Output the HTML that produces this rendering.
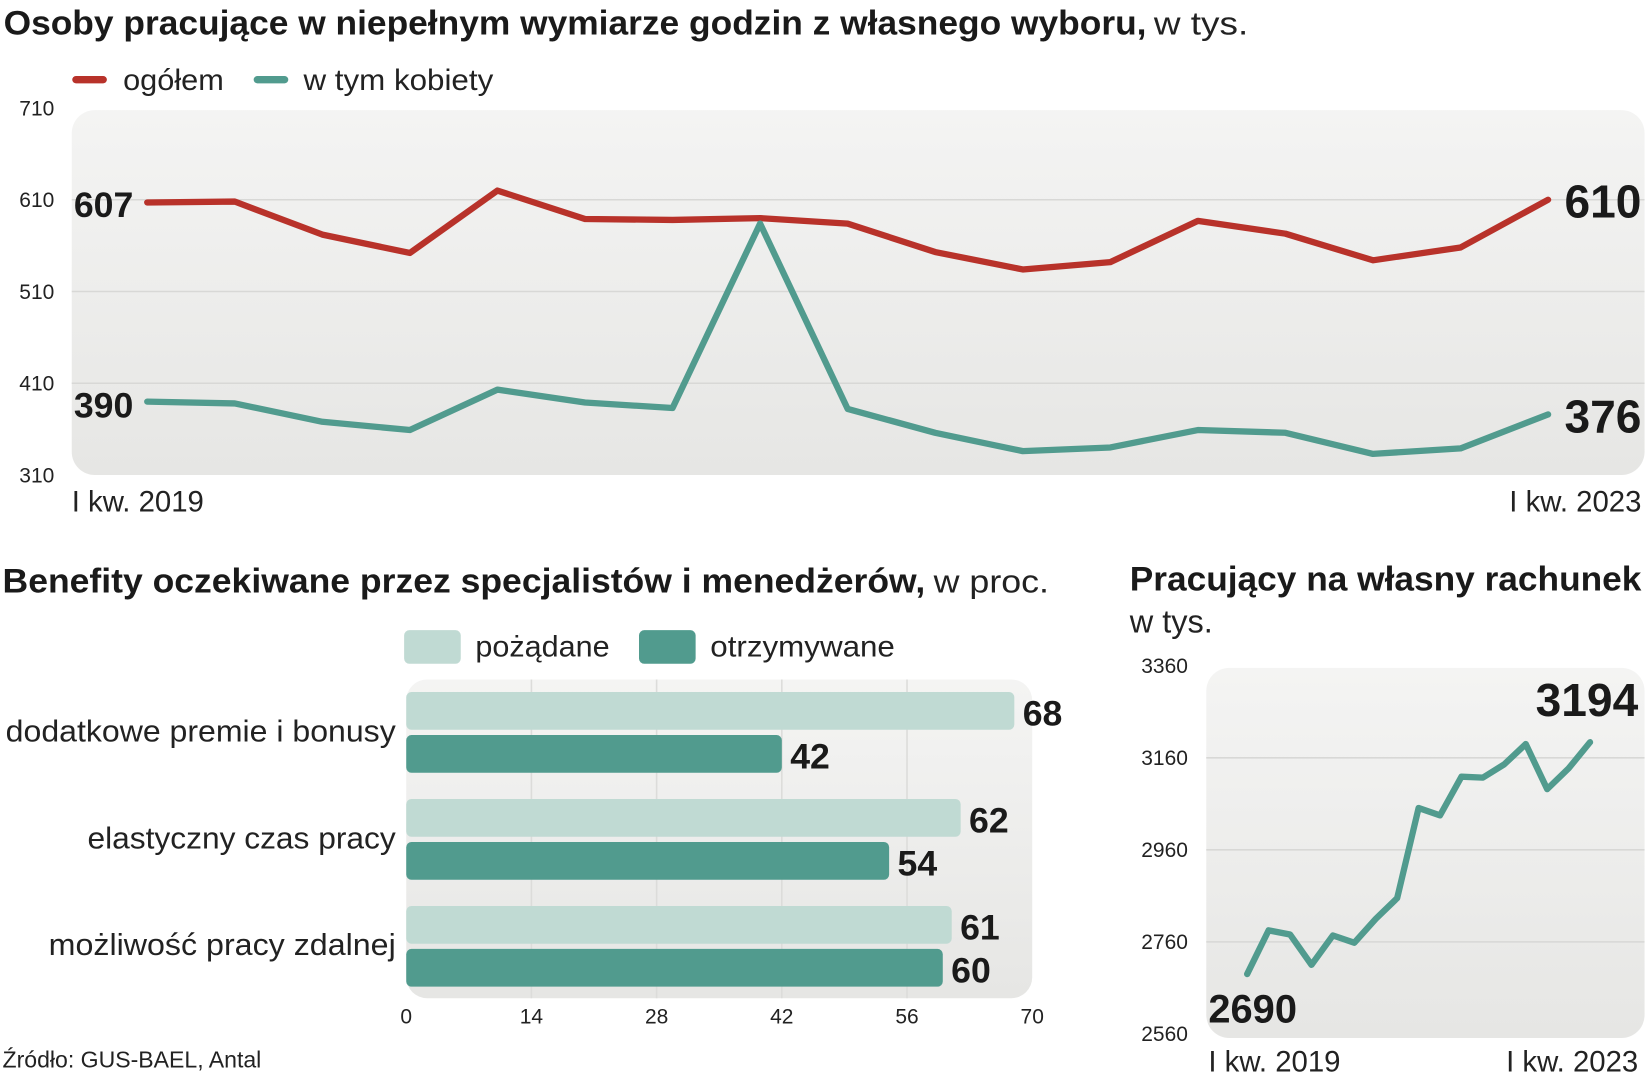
<!DOCTYPE html>
<html><head><meta charset="utf-8"><style>
html,body{margin:0;padding:0;background:#fff;}
svg{display:block;font-family:"Liberation Sans Narrow","Liberation Sans",sans-serif;}
.lt{font-weight:300;fill:#222;}
.b{font-weight:700;fill:#1a1a1a;}
</style></head><body>
<svg id="svg" width="1645" height="1080" viewBox="0 0 1568 1030" xmlns="http://www.w3.org/2000/svg">
<defs>
<linearGradient id="bg" x1="0" y1="0" x2="0" y2="1"><stop offset="0" stop-color="#f4f4f3"/><stop offset="1" stop-color="#e6e6e4"/></linearGradient>
</defs>
<text x="3" y="33" font-size="33" class="b" textLength="1090" lengthAdjust="spacingAndGlyphs">Osoby pracujące w niepełnym wymiarze godzin z własnego wyboru,</text>
<text x="1100" y="33" font-size="31" class="lt" textLength="90" lengthAdjust="spacingAndGlyphs">w tys.</text>
<g>
<line x1="72" y1="76" x2="98" y2="76" stroke="#b8322a" stroke-width="7" stroke-linecap="round"/>
<text x="117" y="86" font-size="28" class="lt" textLength="96" lengthAdjust="spacingAndGlyphs">ogółem</text>
<line x1="245" y1="76" x2="271" y2="76" stroke="#519b8e" stroke-width="7" stroke-linecap="round"/>
<text x="289" y="86" font-size="28" class="lt" textLength="181" lengthAdjust="spacingAndGlyphs">w tym kobiety</text>
</g>
<rect x="68" y="105" width="1500" height="348" rx="22" fill="url(#bg)"/>
<g id="topchart"></g>
<text x="68" y="488" font-size="28" class="lt">I kw. 2019</text>
<text x="1565" y="488" font-size="28" class="lt" text-anchor="end">I kw. 2023</text>

<text x="2" y="565" font-size="33" class="b" textLength="880" lengthAdjust="spacingAndGlyphs">Benefity oczekiwane przez specjalistów i menedżerów,</text>
<text x="890" y="565" font-size="31" class="lt" textLength="110" lengthAdjust="spacingAndGlyphs">w proc.</text>
<g>
<rect x="385" y="601" width="54" height="32" rx="5" fill="#c0dad3"/>
<text x="453" y="626" font-size="28" class="lt" textLength="128" lengthAdjust="spacingAndGlyphs">pożądane</text>
<rect x="609" y="601" width="54" height="32" rx="5" fill="#519b8e"/>
<text x="677" y="626" font-size="28" class="lt" textLength="176" lengthAdjust="spacingAndGlyphs">otrzymywane</text>
</g>
<rect x="387" y="648" width="597" height="304" rx="20" fill="url(#bg)"/>
<g id="bars"></g>
<text x="2" y="1018" font-size="22" class="lt">Źródło: GUS-BAEL, Antal</text>

<text x="1077" y="563" font-size="33" class="b" textLength="488" lengthAdjust="spacingAndGlyphs">Pracujący na własny rachunek</text>
<text x="1077" y="603" font-size="31" class="lt">w tys.</text>
<rect x="1150" y="637" width="418" height="353" rx="22" fill="url(#bg)"/>
<g id="rightchart"></g>
<text x="1152" y="1022" font-size="28" class="lt">I kw. 2019</text>
<text x="1562" y="1022" font-size="28" class="lt" text-anchor="end">I kw. 2023</text>
</svg>
<script>
const NS="http://www.w3.org/2000/svg";
const totalVals=[607,608,572,552,620,589,588,590,584,553,534,542,587,573,544,558,610];
const womenVals=[390,388,368,359,403,389,383,584,382,356,336,340,359,356,333,339,376];
const topTicks=[310,410,510,610,710];
const benefitCats=["dodatkowe premie i bonusy","elastyczny czas pracy","możliwość pracy zdalnej"];
const desiredVals=[68,62,61];
const receivedVals=[42,54,60];
const barTicks=[0,14,28,42,56,70];
const selfVals=[2690,2785,2776,2710,2774,2758,2810,2855,3051,3035,3119,3117,3146,3190,3092,3137,3194];
const rightTicks=[2560,2760,2960,3160,3360];
const catWidths=[372,294,331];

function mk(tag,attrs,parent,txt){const e=document.createElementNS(NS,tag);for(const k in attrs)e.setAttribute(k,attrs[k]);if(txt!==undefined)e.textContent=txt;parent.appendChild(e);return e;}

const topG=document.getElementById('topchart');
const tx=i=>140+i*(1476-140)/(totalVals.length-1);
const ty=v=>453-(v-310)*(453-103)/400;
topTicks.forEach(t=>{
  if(t>310&&t<710){const l=mk('line',{x1:68,x2:1568,y1:ty(t),y2:ty(t),stroke:'#d8d8d6','stroke-width':1.5},topG);
  
  }
  const lb=mk('text',{x:18,y:ty(t)+7,'font-size':20,class:'lt'},topG,t);
  
  
});
function line(vals,xf,yf,color,parent,name,w){
  const p=mk('polyline',{points:vals.map((v,i)=>xf(i)+','+yf(v)).join(' '),fill:'none',stroke:color,'stroke-width':w,'stroke-linejoin':'round','stroke-linecap':'round'},parent);
  
  
}
line(totalVals,tx,ty,'#b8322a',topG,'total-line',6);
line(womenVals,tx,ty,'#519b8e',topG,'women-line',6);
function lab(x,y,s,txt,anchor,name,parent){const e=mk('text',{x:x,y:y,'font-size':s,class:'b','text-anchor':anchor},parent,txt);

}
const n=totalVals.length-1;
lab(70,ty(totalVals[0])+14,34,totalVals[0],'start','total-start-value',topG);
lab(70,ty(womenVals[0])+15,34,womenVals[0],'start','women-start-value',topG);
lab(1565,ty(totalVals[n])+17,44,totalVals[n],'end','total-end-value',topG);
lab(1565,ty(womenVals[n])+17,44,womenVals[n],'end','women-end-value',topG);

const bars=document.getElementById('bars');
const bx=v=>387+v*(984-387)/70;
barTicks.forEach(t=>{
  if(t>0&&t<70){const l=mk('line',{x1:bx(t),x2:bx(t),y1:648,y2:952,stroke:'#dcdcda','stroke-width':1.5},bars);
  
  }
  const lb=mk('text',{x:bx(t),y:976,'font-size':20,class:'lt','text-anchor':'middle'},bars,t);
  
  
});
benefitCats.forEach((c,i)=>{
  const y0=660+i*102;
  const r1=mk('rect',{x:387,y:y0,width:bx(desiredVals[i])-387,height:36,rx:5,fill:'#c0dad3'},bars);
  
  
  const r2=mk('rect',{x:387,y:y0+41,width:bx(receivedVals[i])-387,height:36,rx:5,fill:'#519b8e'},bars);
  
  
  lab(bx(desiredVals[i])+8,y0+32,34,desiredVals[i],'start','desired-value',bars);
  lab(bx(receivedVals[i])+8,y0+73,34,receivedVals[i],'start','received-value',bars);
  const cl=mk('text',{x:377-catWidths[i],y:y0+47,'font-size':29,class:'lt',textLength:catWidths[i],lengthAdjust:'spacingAndGlyphs'},bars,c);
  
  
});

const rightG=document.getElementById('rightchart');
const rx=i=>1189+i*(1516-1189)/(selfVals.length-1);
const ry=v=>986-(v-2560)*(986-635)/800;
rightTicks.forEach(t=>{
  if(t>2560&&t<3360){const l=mk('line',{x1:1150,x2:1568,y1:ry(t),y2:ry(t),stroke:'#d8d8d6','stroke-width':1.5},rightG);
  
  }
  const lb=mk('text',{x:1088,y:ry(t)+7,'font-size':20,class:'lt'},rightG,t);
  
  
});
line(selfVals,rx,ry,'#519b8e',rightG,'self-employed-line',6);
lab(1152,975,38,selfVals[0],'start','self-start-value',rightG);
lab(1562,683,44,selfVals[selfVals.length-1],'end','self-end-value',rightG);
</script>
</body></html>
